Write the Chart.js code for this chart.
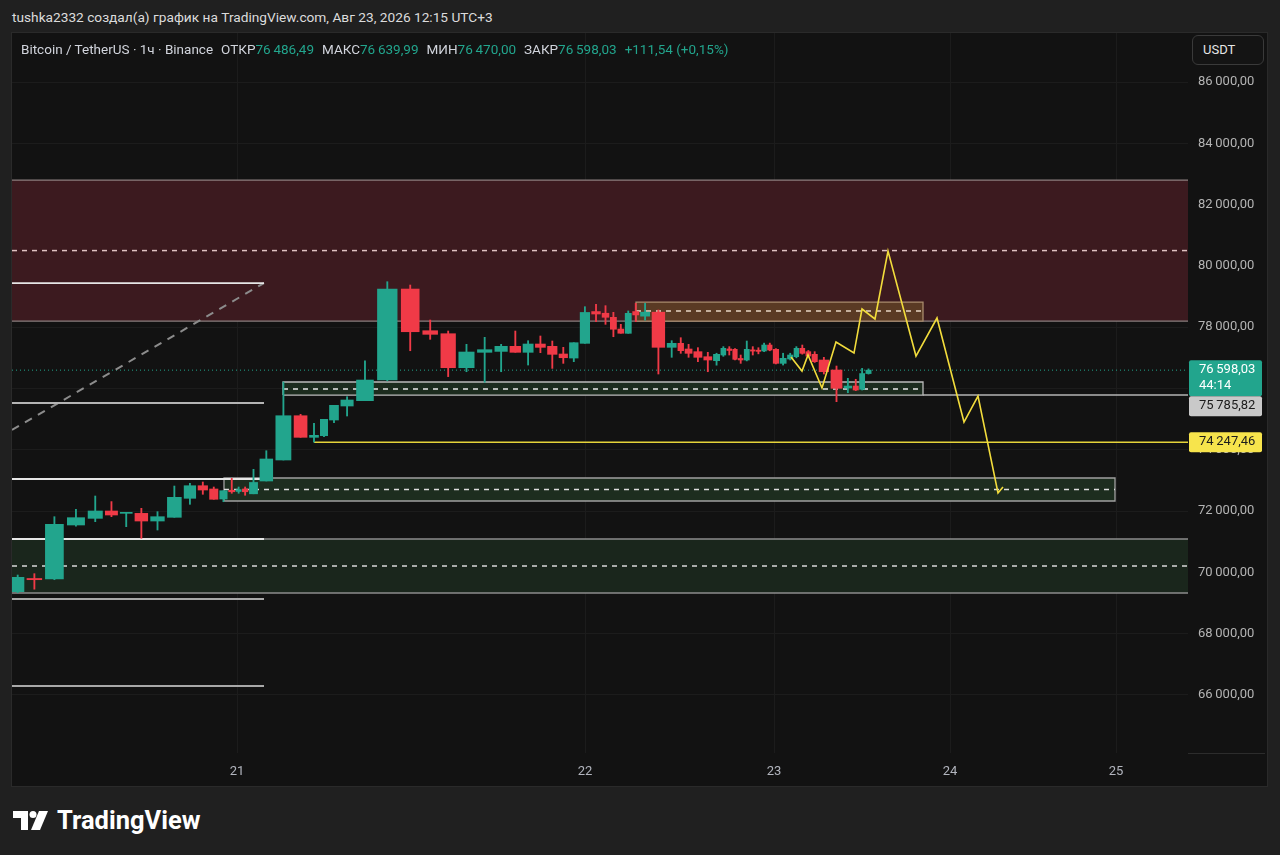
<!DOCTYPE html>
<html lang="ru">
<head>
<meta charset="utf-8">
<title>Bitcoin / TetherUS · 1ч · Binance</title>
<script src="https://cdn.jsdelivr.net/npm/chart.js@4.4.1/dist/chart.umd.min.js"></script>
<style>
  html, body { margin: 0; padding: 0; width: 1280px; height: 855px; overflow: hidden; background: #202020; font-family: Roboto, "Noto Sans", sans-serif; }
  #author { position: absolute; left: 12px; top: 8px; font-size: 13.7px; line-height: 18px; color: #dcdcdc; white-space: nowrap; }
  #panel { position: absolute; left: 12px; top: 33px; width: 1255px; height: 753px; background: #121212; outline: 1px solid #2a2a2a; }
  #legend { position: absolute; left: 9px; top: 8px; font-size: 13.5px; line-height: 16px; color: #d1d4dc; white-space: nowrap; }
  #legend .k { margin-left: 8px; }
  #legend .v { color: #22a58d; }
  #usdt { position: absolute; left: 1180px; top: 2px; height: 28px; width: 60px; border: 1px solid #3a3a3a; border-radius: 6px; background: #141414; color: #e6e6e6; font-size: 13px; line-height: 28px; padding-left: 10px; }
  #logo { position: absolute; left: 13px; top: 807px; height: 26px; display: flex; align-items: center; color: #ffffff; font-weight: 700; font-size: 25.5px; letter-spacing: 0; }
  #logo svg { margin-right: 9px; }
</style>
</head>
<body>
<div id="author">tushka2332 создал(а) график на TradingView.com, Авг 23, 2026 12:15 UTC+3</div>
<div id="panel">
  <canvas id="btcChart" width="1255" height="753"></canvas>
  <div id="legend"></div>
  <div id="usdt">USDT</div>
</div>
<div id="logo">
  <svg width="35" height="19" viewBox="0 0 35 19"><path d="M0 0h15v19H8V7H0z" fill="#fff"/><circle cx="20" cy="3.5" r="3.5" fill="#fff"/><path d="M26 0h9l-8 19h-9z" fill="#fff"/></svg>
  TradingView
</div>
<script>
// 1h candles; x = position on the time scale (the picture's time axis is not even)
var candleX = [0.57, 2.1, 4.18, 6.5, 8.4, 10.0, 11.38, 12.93, 14.5, 16.27,
  17.9, 19.1, 20.23, 21.15, 22.05, 22.65, 23.3, 24.0, 25.3, 27.13,
  29.0, 30.3, 31.2, 32.1, 33.4, 35.13, 37.53, 39.93, 41.9, 43.55,
  45.47, 47.3, 49.0, 50.35, 51.63, 52.83, 54.07, 55.15, 56.15, 57.27,
  58.47, 59.4, 60.13, 60.9, 61.6, 62.4, 63.1, 64.63, 66.2, 66.85,
  67.6, 68.58, 69.6, 70.55, 71.12, 71.75, 72.3, 72.85, 73.48, 74.1,
  74.63, 75.2, 75.8, 76.32, 77.13, 77.85, 78.45, 79.0, 79.67, 80.2,
  81.0, 82.55, 83.7, 84.4, 85.0, 85.65];
var candleOpen = [69369, 69800, 69783, 71545, 71762, 72002, 71925, 71925, 71675, 71796,
  72416, 72827, 72720, 72393, 72680, 72640, 72720, 72563, 72981, 73666,
  75111, 74406, 74459, 74971, 75428, 75602, 76276, 79245, 77885, 77787,
  76678, 77180, 77210, 77375, 77180, 77451, 77375, 77125, 76993, 77473,
  78510, 78455, 78322, 77940, 77800, 78510, 78360, 78489, 77343, 77473,
  77288, 77201, 77037, 76907, 77092, 77290, 77278, 76980, 76929, 77260,
  77250, 77223, 77418, 77278, 76820, 76961, 77037, 77310, 77201, 77114,
  76929, 76603, 76015, 76080, 75972, 76486.49];
var candleHigh = [69913, 69957, 71816, 72057, 72491, 72309, 71958, 72089, 71980, 72817,
  72906, 72948, 72785, 72664, 73068, 72785, 72785, 73362, 73969, 76211,
  75157, 74863, 74994, 75450, 75731, 76906, 79484, 79376, 78234, 77875,
  77441, 77670, 77440, 77875, 77559, 77712, 77549, 77343, 77494, 78669,
  78746, 78702, 78485, 78093, 78530, 78780, 78780, 78560, 77560, 77657,
  77441, 77332, 77180, 77150, 77365, 77365, 77300, 77092, 77549, 77365,
  77330, 77480, 77480, 77300, 77150, 77150, 77365, 77418, 77240, 77201,
  77017, 76733, 76331, 76300, 76656, 76639.99];
var candleLow = [69336, 69450, 69760, 71506, 71653, 71816, 71490, 71110, 71382, 71796,
  72220, 72547, 72384, 72305, 72580, 72580, 72515, 72563, 72981, 73666,
  74406, 74247, 74430, 74885, 75102, 75602, 76250, 77232, 77604, 76387,
  76547, 76201, 76547, 77180, 76765, 77169, 76656, 76820, 76874, 77473,
  78178, 78093, 77689, 77802, 77800, 78180, 78230, 76472, 77017, 77147,
  77017, 76874, 76547, 76760, 77050, 77092, 76930, 76820, 76900, 77092,
  77130, 77200, 77230, 76800, 76765, 76930, 77000, 77120, 77030, 76850,
  76472, 75569, 75862, 75930, 75950, 76470.00];
var candleClose = [69838, 69760, 71567, 71784, 72002, 71871, 71958, 71675, 71816, 72449,
  72827, 72687, 72384, 72664, 72630, 72700, 72630, 72933, 73699, 75111,
  74406, 74471, 74994, 75450, 75624, 76276, 79245, 77852, 77767, 76678,
  77190, 77266, 77375, 77180, 77451, 77342, 77114, 77004, 77494, 78481,
  78430, 78323, 77933, 77802, 78453, 78400, 78490, 77343, 77473, 77234,
  77147, 77017, 76929, 77114, 77310, 77240, 76951, 76930, 77278, 77220,
  77210, 77418, 77255, 76820, 76983, 77092, 77310, 77147, 77059, 76874,
  76547, 76005, 76080, 75950, 76486.49, 76598.03];

// rectangles drawn on the chart
var zoneLow  = [78200, 69326, 72328, 75785.82, 78201];
var zoneHigh = [82800, 71088, 73079, 76211, 78821];
var zoneMid  = [80500, 70207, 72705, 75983, 78528];
var zoneFrom = [-1, -1, 21.2, 27.1, 62.4];
var zoneTo   = [119, 119, 110.3, 91.1, 91.1];

// horizontal levels on the left part
var levelValues = [79441, 75526, 73046, 71088, 69130, 66291];
var levelSpan = [0, 25.2];

// dashed trend line
var trendX = [0, 25.2];
var trendY = [74645, 79441];

// marked prices
var retestLine = 75785.82;
var retestFrom = 91.1;
var targetLine = 74247.46;
var targetFrom = 30.2;
var timerText = '44:14';

// yellow forecast path
var forecastX = [77.9, 79.0, 79.6, 81.0, 82.4, 84.2, 85.0, 86.3, 87.6, 90.4, 92.5, 95.2, 96.6, 98.6, 99.1];
var forecastY = [77027, 76570, 77092, 76015, 77516, 77157, 78593, 78267, 80486, 77059, 78300, 74906, 75754, 72589, 72785];

// axes
var priceTicks = [66000, 68000, 70000, 72000, 74000, 76000, 78000, 80000, 82000, 84000, 86000];
var dayTickPos = [22.5, 57.3, 76.2, 93.8, 110.4];
var dayTickLabels = ['21', '22', '23', '24', '25'];
var xRange = [0, 117.6];
var yRange = [64105, 87600];


var UP = '#22a58d';
var DOWN = '#f03a47';

function fmtPrice(v) {
  var parts = Number(v).toFixed(2).split('.');
  return parts[0].replace(/\B(?=(\d{3})+(?!\d))/g, '\u2009') + ',' + parts[1];
}

function fillLegend() {
  var last = candleClose.length - 1;
  var change = candleClose[last] - candleClose[last - 1];
  var pct = change / candleClose[last - 1] * 100;
  var sign = change >= 0 ? '+' : '\u2212';
  var html = 'Bitcoin / TetherUS · 1ч · Binance';
  html += '<span class="k">ОТКР</span><span class="v">' + fmtPrice(candleOpen[last]) + '</span>';
  html += '<span class="k">МАКС</span><span class="v">' + fmtPrice(candleHigh[last]) + '</span>';
  html += '<span class="k">МИН</span><span class="v">' + fmtPrice(candleLow[last]) + '</span>';
  html += '<span class="k">ЗАКР</span><span class="v">' + fmtPrice(candleClose[last]) + '</span>';
  html += '<span class="k v">' + sign + Math.abs(change).toFixed(2).replace('.', ',') +
    ' (' + sign + Math.abs(pct).toFixed(2).replace('.', ',') + '%)</span>';
  document.getElementById('legend').innerHTML = html;
}

function lineSet(points, color, width, order, dash, extra) {
  var ds = {
    type: 'line',
    data: points,
    borderColor: color,
    borderWidth: width,
    borderDash: dash || [],
    pointRadius: 0,
    tension: 0,
    fill: false,
    order: order
  };
  if (extra) {
    for (var k in extra) ds[k] = extra[k];
  }
  return ds;
}

function buildDatasets() {
  var sets = [];
  var colors = candleClose.map(function (c, i) { return c >= candleOpen[i] ? UP : DOWN; });

  // forecast on top
  sets.push(lineSet(forecastX.map(function (x, i) { return { x: x, y: forecastY[i] }; }), '#f2dc3c', 1.6, 0));

  // candles: bodies and wicks as floating bars
  sets.push({
    type: 'bar', order: 1, stack: 'candles',
    data: candleX.map(function (x, i) { return { x: x, y: [candleOpen[i], candleClose[i]] }; }),
    backgroundColor: colors, borderWidth: 0, minBarLength: 1,
    barThickness: 'flex', categoryPercentage: 1, barPercentage: 0.82
  });
  sets.push({
    type: 'bar', order: 2, stack: 'candles',
    data: candleX.map(function (x, i) { return { x: x, y: [candleLow[i], candleHigh[i]] }; }),
    backgroundColor: colors, borderWidth: 0, minBarLength: 1,
    barThickness: 'flex', maxBarThickness: 1.2, categoryPercentage: 1, barPercentage: 0.82
  });

  // levels
  var levelColors = ['#e6e6e6', '#b4b4b4', '#e6e6e6', '#e6e6e6', '#a8a8a8', '#a8a8a8'];
  levelValues.forEach(function (v, i) {
    sets.push(lineSet([{ x: levelSpan[0], y: v }, { x: levelSpan[1], y: v }], levelColors[i], 1.8, 3));
  });
  sets.push(lineSet([{ x: trendX[0], y: trendY[0] }, { x: trendX[1], y: trendY[1] }], '#8c8c8c', 2, 3, [8, 7]));
  sets.push(lineSet([{ x: retestFrom, y: retestLine }, { x: xRange[1] + 2, y: retestLine }], '#b4b4b4', 1.5, 3));
  sets.push(lineSet([{ x: targetFrom, y: targetLine }, { x: xRange[1] + 2, y: targetLine }], '#e6d43a', 1.5, 3));
  var lastClose = candleClose[candleClose.length - 1];
  sets.push(lineSet([{ x: xRange[0], y: lastClose }, { x: xRange[1] + 2, y: lastClose }], UP, 1, 3, [1, 3]));

  // zones: the first one lies lowest
  var zoneFill = ['#3c1a1f', '#1a261c', '#1d2d1f', '#1c2b1e', '#5a3a24'];
  var zoneEdge = ['#8a7e7e', '#8c8c8c', '#a0a0a0', '#bcbcbc', '#a88a6c'];
  var zoneDash = ['#e0c2c2', '#d8d8d8', '#dcdcdc', '#e6e6e6', '#e8d6c4'];
  zoneLow.forEach(function (low, i) {
    var a = zoneFrom[i], b = zoneTo[i], hi = zoneHigh[i];
    sets.push(lineSet([{ x: a, y: zoneMid[i] }, { x: b, y: zoneMid[i] }], zoneDash[i], 1.5, 4, [5, 5]));
    sets.push(lineSet([
      { x: a, y: low }, { x: b, y: low }, { x: b, y: hi }, { x: a, y: hi }, { x: a, y: low }
    ], zoneEdge[i], 1.3, 20 - i, null, { fill: 'shape', backgroundColor: zoneFill[i] }));
  });
  return sets;
}

var tagsPlugin = {
  id: 'priceTags',
  afterDraw: function (chart) {
    var ctx = chart.ctx, area = chart.chartArea, y = chart.scales.y;
    var tagValues = [candleClose[candleClose.length - 1], retestLine, targetLine];
    var tagExtra = [timerText, '', ''];
    var tagFill = [UP, '#c9c9c9', '#f7e44c'];
    var tagInk = ['#ffffff', '#1c1c1c', '#1c1c1c'];
    ctx.save();
    ctx.strokeStyle = '#2c2c2c';
    ctx.lineWidth = 1;
    ctx.beginPath();
    ctx.moveTo(area.right, area.bottom + 0.5);
    ctx.lineTo(chart.width - 2, area.bottom + 0.5);
    ctx.stroke();

    var prevBottom = -Infinity;
    ctx.font = '13px Roboto, "Noto Sans", sans-serif';
    ctx.textBaseline = 'middle';
    ctx.textAlign = 'left';
    tagValues.forEach(function (v, i) {
      var p = y.getPixelForValue(v);
      var h = tagExtra[i] ? 36 : 20;
      var top = Math.max(p - 10, prevBottom);
      ctx.fillStyle = tagFill[i];
      ctx.beginPath();
      if (ctx.roundRect) ctx.roundRect(area.right + 1, top, 73, h, 2);
      else ctx.rect(area.right + 1, top, 73, h);
      ctx.fill();
      ctx.fillStyle = tagInk[i];
      ctx.fillText(fmtPrice(v), area.right + 11, top + 10);
      if (tagExtra[i]) ctx.fillText(tagExtra[i], area.right + 11, top + 26);
      prevBottom = top + h;
    });
    ctx.restore();
  }
};

function init() {
  fillLegend();
  Chart.defaults.font.family = 'Roboto, "Noto Sans", sans-serif';
  Chart.defaults.font.size = 13;

  var ctx = document.getElementById('btcChart').getContext('2d');
  new Chart(ctx, {
    type: 'bar',
    data: { datasets: buildDatasets() },
    options: {
      responsive: false,
      animation: false,
      events: [],
      layout: { padding: 0 },
      plugins: { legend: { display: false }, tooltip: { enabled: false } },
      scales: {
        x: {
          type: 'linear', min: xRange[0], max: xRange[1], offset: false, stacked: true,
          grid: { color: '#1c1c1c', offset: false, drawTicks: false },
          border: { display: false },
          ticks: {
            color: '#b2b5be', padding: 11, maxRotation: 0, autoSkip: false,
            callback: function (value, index) { return dayTickLabels[index]; }
          },
          afterBuildTicks: function (s) { s.ticks = dayTickPos.map(function (v) { return { value: v }; }); },
          afterFit: function (s) { s.height = 33; }
        },
        y: {
          type: 'linear', position: 'right', min: yRange[0], max: yRange[1], stacked: false,
          grid: { color: '#1c1c1c', drawTicks: false },
          border: { display: false },
          ticks: {
            color: '#b4b4b4', padding: 10,
            callback: function (value) { return fmtPrice(value); }
          },
          afterBuildTicks: function (s) { s.ticks = priceTicks.map(function (v) { return { value: v }; }); },
          afterFit: function (s) { s.width = 79; s.paddingTop = 0; s.paddingBottom = 0; }
        }
      }
    },
    plugins: [tagsPlugin]
  });
}

init();
</script>
</body>
</html>
